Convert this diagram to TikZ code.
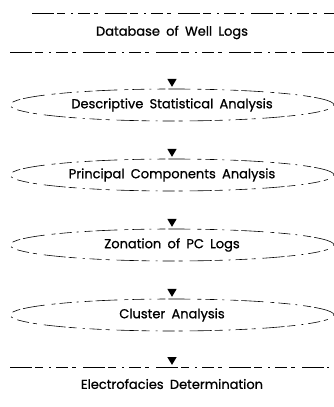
\documentclass[tikz,border=0pt]{standalone}
\usepackage{fontspec}
\setmainfont{Poppins}[WordSpace=1.8,FakeBold=0.8]
\usetikzlibrary{arrows.meta,shapes.geometric}

\begin{document}
\begin{tikzpicture}[x=1pt,y=-1pt,font=\fontsize{13}{15}\selectfont,
  broken/.style={line width=0.6pt,dash pattern=on 22pt off 3pt on 8pt off 6pt on 2pt off 5pt on 12pt off 4pt on 4pt off 7pt},
  stage/.style={ellipse,broken,draw,inner sep=0pt,minimum width=324pt,minimum height=32pt},
  endbox/.style={inner sep=0pt,minimum width=323pt},
  flow/.style={draw opacity=0,-{Triangle[width=10pt,length=8.5pt,fill=black]},shorten >=1.5pt}]
\useasboundingbox (0,0) rectangle (333,407);
\node[endbox,minimum height=39pt] (db) at (172,32.5) {Database of Well Logs};
\node[stage] (dsa) at (172,105) {Descriptive Statistical Analysis};
\node[stage] (pca) at (172,175) {Principal Components Analysis};
\node[stage] (zon) at (172,245) {Zonation of PC Logs};
\node[stage] (clu) at (172,315) {Cluster Analysis};
\node[endbox,minimum height=34pt] (efd) at (172,384) {Electrofacies Determination};
\draw[broken] ([xshift=22pt]db.north west) -- (db.north east);
\draw[broken] (db.south west) -- (db.south east);
\draw[broken] (efd.north west) -- ([xshift=-5pt]efd.north east);
\draw[flow] (db) -- (dsa);
\draw[flow] (dsa) -- (pca);
\draw[flow] (pca) -- (zon);
\draw[flow] (zon) -- (clu);
\draw[flow] (clu) -- (efd);
\end{tikzpicture}
\end{document}
